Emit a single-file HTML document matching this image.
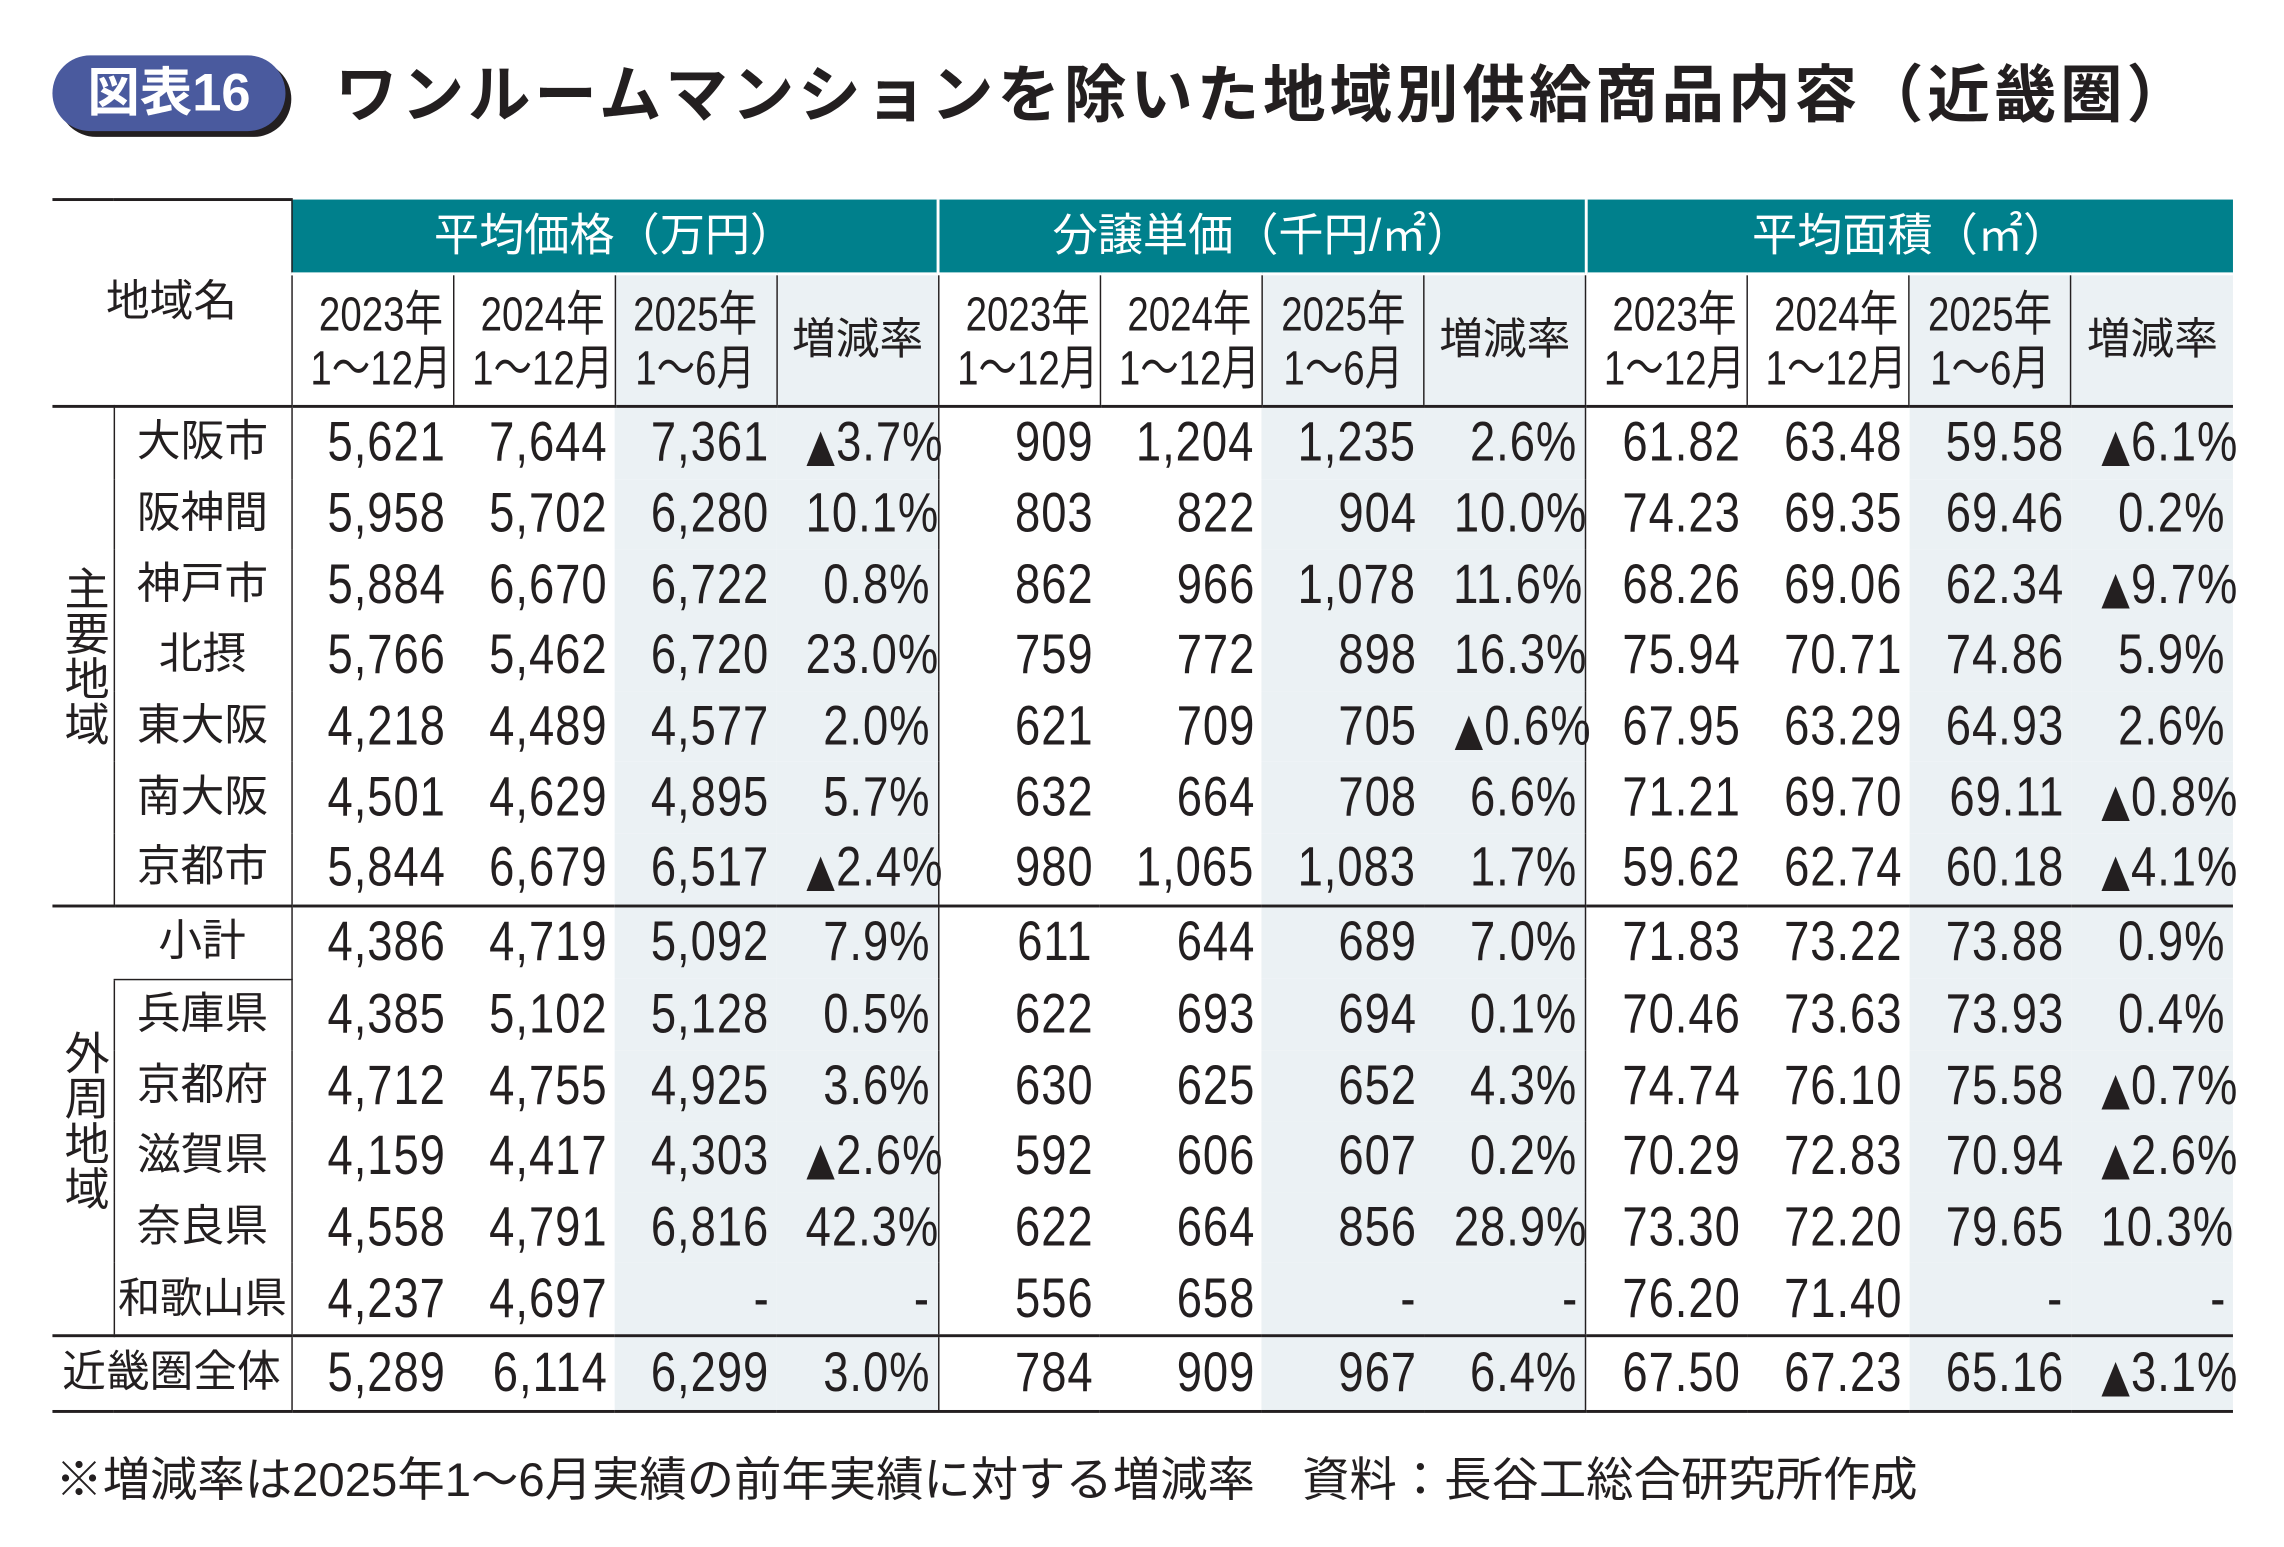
<!DOCTYPE html>
<html><head><meta charset="utf-8"><style>
html,body{margin:0;padding:0;background:#fff;}
body{width:2284px;height:1546px;overflow:hidden;position:relative;}
#w{position:absolute;left:0;top:0;width:1568px;height:1062px;transform:scale(1.4566);transform-origin:0 0;color:#231f20;font-family:"Liberation Sans","Noto Sans CJK JP",sans-serif;}
.badge{position:absolute;left:36px;top:38px;width:160px;height:52px;border-radius:26px;background:#4a5a9e;box-shadow:4px 4px 0 #231f20;color:#fff;font-size:36px;line-height:52px;text-align:center;font-weight:bold;}
.title{position:absolute;left:230px;top:36px;font-size:43px;font-weight:bold;line-height:60px;white-space:nowrap;letter-spacing:2.6px;}
table{position:absolute;left:36px;top:136px;border-collapse:collapse;table-layout:fixed;width:1497px;}
td{padding:0;font-size:38px;line-height:40px;height:48.7px;white-space:nowrap;overflow:visible;}
td.n{text-align:right;padding-right:5px;}
td.n span{display:inline-block;transform:scaleX(0.82);transform-origin:100% 50%;letter-spacing:0.8px;line-height:40px;}
td.n i{font-style:normal;font-family:"DejaVu Sans",sans-serif;font-size:31px;line-height:0;letter-spacing:0;margin-right:1px;}
.s{background:#ebf1f4;}
.h1 td{background:#00808c;color:#fff;text-align:center;height:50px;font-size:31px;border-right:2px solid #fff;}
.h2 td{height:89px;text-align:center;font-size:33px;line-height:37px;border-right:1px solid #231f20;border-bottom:2px solid #231f20;border-top:2px solid #fff;}
.h2 td span{display:inline-block;transform:scaleX(0.8);transform-origin:50% 50%;}
.h2 td.r{font-size:30px;}
.nm{font-size:30px;text-align:center;border-left:1px solid #231f20;border-right:1px solid #231f20;}
.g{border-right:1px solid #231f20;}
.vt{writing-mode:vertical-rl;font-size:31px;line-height:31px;text-align:center;vertical-align:middle;}
.tl td{border-top:2px solid #231f20;}
.tot td{border-top:2px solid #231f20;border-bottom:2px solid #231f20;height:50px;}
.foot{position:absolute;left:38px;top:990px;font-size:32.5px;white-space:nowrap;}
</style></head><body><div id="w">
<div class="badge">図表16</div>
<div class="title">ワンルームマンションを除いた地域別供給商品内容（近畿圏）</div>
<table>
<colgroup><col style="width:42px"><col style="width:122px"><col span="12" style="width:111.08px"></colgroup>
<tr class="h1"><td colspan="2" rowspan="2" style="background:#fff;color:#231f20;border-top:2px solid #231f20;border-bottom:2px solid #231f20;border-right:1px solid #231f20;vertical-align:top;padding-top:50px;font-size:30px;text-align:center;">地域名</td><td colspan="4">平均価格（万円）</td><td colspan="4">分譲単価（千円/㎡）</td><td colspan="4" style="border-right:none">平均面積（㎡）</td></tr>
<tr class="h2"><td><span>2023年<br>1～12月</span></td><td><span>2024年<br>1～12月</span></td><td class="s"><span>2025年<br>1～6月</span></td><td class="s r">増減率</td><td><span>2023年<br>1～12月</span></td><td><span>2024年<br>1～12月</span></td><td class="s"><span>2025年<br>1～6月</span></td><td class="s r">増減率</td><td><span>2023年<br>1～12月</span></td><td><span>2024年<br>1～12月</span></td><td class="s"><span>2025年<br>1～6月</span></td><td class="s r" style="border-right:none">増減率</td></tr>
<tr><td class="vt" rowspan="7">主要地域</td><td class="nm">大阪市</td><td class="n">5,621</td><td class="n">7,644</td><td class="n s">7,361</td><td class="n s g">▲3.7%</td><td class="n">909</td><td class="n">1,204</td><td class="n s">1,235</td><td class="n s g">2.6%</td><td class="n">61.82</td><td class="n">63.48</td><td class="n s">59.58</td><td class="n s">▲6.1%</td></tr>
<tr><td class="nm">阪神間</td><td class="n">5,958</td><td class="n">5,702</td><td class="n s">6,280</td><td class="n s g">10.1%</td><td class="n">803</td><td class="n">822</td><td class="n s">904</td><td class="n s g">10.0%</td><td class="n">74.23</td><td class="n">69.35</td><td class="n s">69.46</td><td class="n s">0.2%</td></tr>
<tr><td class="nm">神戸市</td><td class="n">5,884</td><td class="n">6,670</td><td class="n s">6,722</td><td class="n s g">0.8%</td><td class="n">862</td><td class="n">966</td><td class="n s">1,078</td><td class="n s g">11.6%</td><td class="n">68.26</td><td class="n">69.06</td><td class="n s">62.34</td><td class="n s">▲9.7%</td></tr>
<tr><td class="nm">北摂</td><td class="n">5,766</td><td class="n">5,462</td><td class="n s">6,720</td><td class="n s g">23.0%</td><td class="n">759</td><td class="n">772</td><td class="n s">898</td><td class="n s g">16.3%</td><td class="n">75.94</td><td class="n">70.71</td><td class="n s">74.86</td><td class="n s">5.9%</td></tr>
<tr><td class="nm">東大阪</td><td class="n">4,218</td><td class="n">4,489</td><td class="n s">4,577</td><td class="n s g">2.0%</td><td class="n">621</td><td class="n">709</td><td class="n s">705</td><td class="n s g">▲0.6%</td><td class="n">67.95</td><td class="n">63.29</td><td class="n s">64.93</td><td class="n s">2.6%</td></tr>
<tr><td class="nm">南大阪</td><td class="n">4,501</td><td class="n">4,629</td><td class="n s">4,895</td><td class="n s g">5.7%</td><td class="n">632</td><td class="n">664</td><td class="n s">708</td><td class="n s g">6.6%</td><td class="n">71.21</td><td class="n">69.70</td><td class="n s">69.11</td><td class="n s">▲0.8%</td></tr>
<tr><td class="nm">京都市</td><td class="n">5,844</td><td class="n">6,679</td><td class="n s">6,517</td><td class="n s g">▲2.4%</td><td class="n">980</td><td class="n">1,065</td><td class="n s">1,083</td><td class="n s g">1.7%</td><td class="n">59.62</td><td class="n">62.74</td><td class="n s">60.18</td><td class="n s">▲4.1%</td></tr>
<tr class="tl"><td class="vt" rowspan="6">外周地域</td><td class="nm" style="border-left:none;border-bottom:1px solid #231f20">小計</td><td class="n">4,386</td><td class="n">4,719</td><td class="n s">5,092</td><td class="n s g">7.9%</td><td class="n">611</td><td class="n">644</td><td class="n s">689</td><td class="n s g">7.0%</td><td class="n">71.83</td><td class="n">73.22</td><td class="n s">73.88</td><td class="n s">0.9%</td></tr>
<tr><td class="nm">兵庫県</td><td class="n">4,385</td><td class="n">5,102</td><td class="n s">5,128</td><td class="n s g">0.5%</td><td class="n">622</td><td class="n">693</td><td class="n s">694</td><td class="n s g">0.1%</td><td class="n">70.46</td><td class="n">73.63</td><td class="n s">73.93</td><td class="n s">0.4%</td></tr>
<tr><td class="nm">京都府</td><td class="n">4,712</td><td class="n">4,755</td><td class="n s">4,925</td><td class="n s g">3.6%</td><td class="n">630</td><td class="n">625</td><td class="n s">652</td><td class="n s g">4.3%</td><td class="n">74.74</td><td class="n">76.10</td><td class="n s">75.58</td><td class="n s">▲0.7%</td></tr>
<tr><td class="nm">滋賀県</td><td class="n">4,159</td><td class="n">4,417</td><td class="n s">4,303</td><td class="n s g">▲2.6%</td><td class="n">592</td><td class="n">606</td><td class="n s">607</td><td class="n s g">0.2%</td><td class="n">70.29</td><td class="n">72.83</td><td class="n s">70.94</td><td class="n s">▲2.6%</td></tr>
<tr><td class="nm">奈良県</td><td class="n">4,558</td><td class="n">4,791</td><td class="n s">6,816</td><td class="n s g">42.3%</td><td class="n">622</td><td class="n">664</td><td class="n s">856</td><td class="n s g">28.9%</td><td class="n">73.30</td><td class="n">72.20</td><td class="n s">79.65</td><td class="n s">10.3%</td></tr>
<tr><td class="nm" style="font-size:29px">和歌山県</td><td class="n">4,237</td><td class="n">4,697</td><td class="n s">-</td><td class="n s g">-</td><td class="n">556</td><td class="n">658</td><td class="n s">-</td><td class="n s g">-</td><td class="n">76.20</td><td class="n">71.40</td><td class="n s">-</td><td class="n s">-</td></tr>
<tr class="tot"><td colspan="2" class="nm" style="border-left:none;font-size:30px">近畿圏全体</td><td class="n">5,289</td><td class="n">6,114</td><td class="n s">6,299</td><td class="n s g">3.0%</td><td class="n">784</td><td class="n">909</td><td class="n s">967</td><td class="n s g">6.4%</td><td class="n">67.50</td><td class="n">67.23</td><td class="n s">65.16</td><td class="n s">▲3.1%</td></tr>
</table>
<div class="foot">※増減率は2025年1～6月実績の前年実績に対する増減率　資料：長谷工総合研究所作成</div>
</div>
<script>
document.querySelectorAll('td.n').forEach(function(t){t.innerHTML='<span>'+t.innerHTML.replace('▲','<i>▲</i>')+'</span>';});
</script>
</body></html>
